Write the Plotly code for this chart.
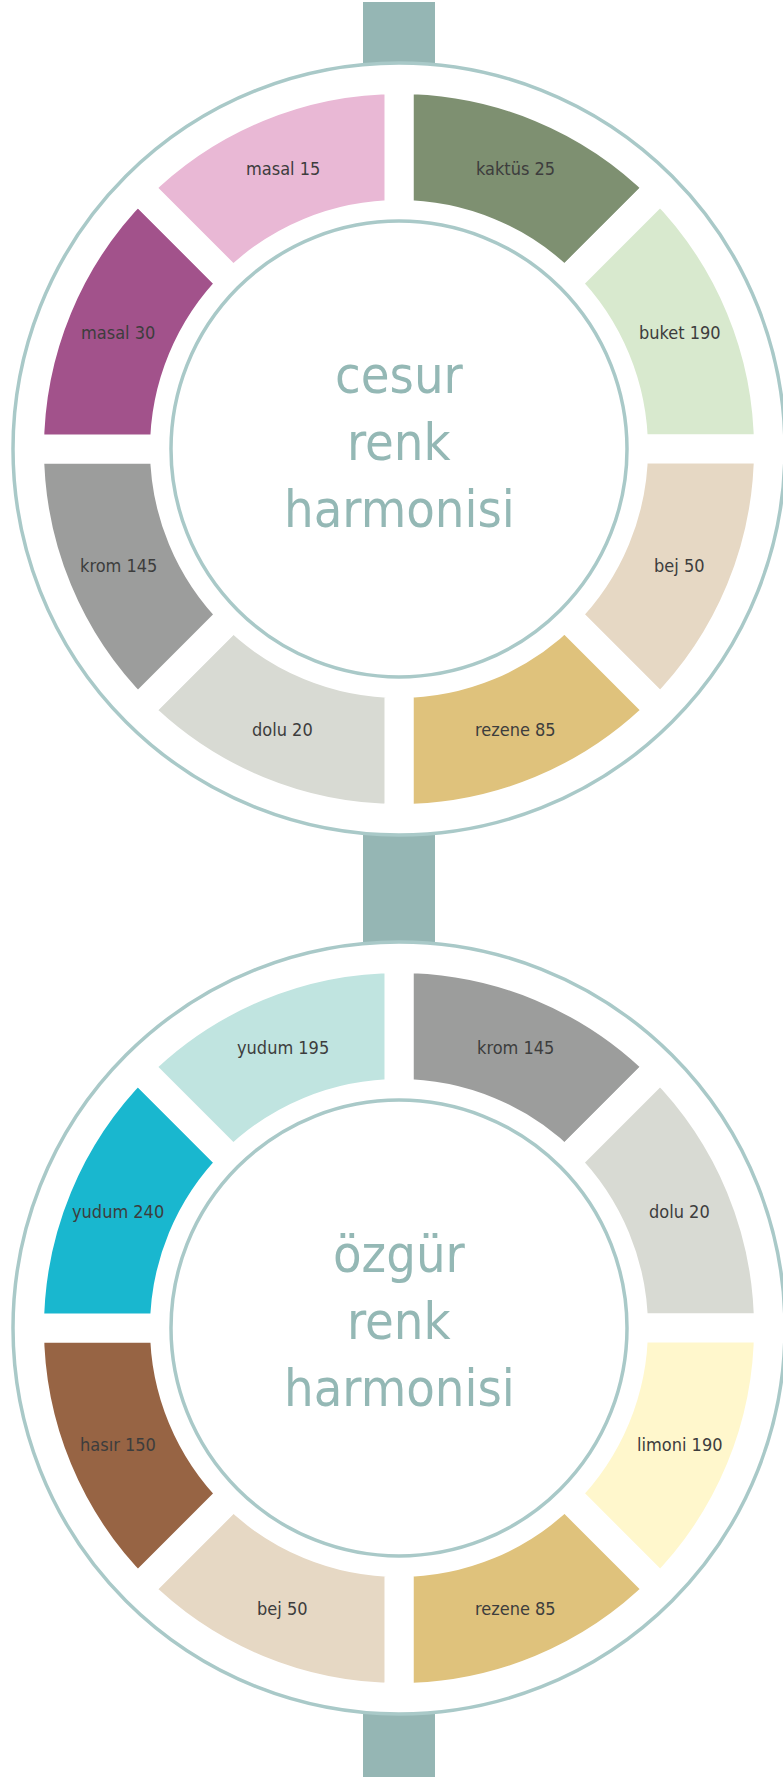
import math
import plotly.graph_objects as go

# ---- data (slices listed clockwise starting at 12 o'clock) ----
wheel1_labels = ["kaktüs 25", "buket 190", "bej 50", "rezene 85",
                 "dolu 20", "krom 145", "masal 30", "masal 15"]
wheel1_colors = ["#7e9071", "#d8e9ce", "#e6d8c4", "#dfc27c",
                 "#d8dad3", "#9c9d9c", "#a2528b", "#e9b8d5"]
wheel1_title = ["cesur", "renk", "harmonisi"]

wheel2_labels = ["krom 145", "dolu 20", "limoni 190", "rezene 85",
                 "bej 50", "hasır 150", "yudum 240", "yudum 195"]
wheel2_colors = ["#9c9d9c", "#d8dad3", "#fff7cc", "#dfc27c",
                 "#e6d8c4", "#976444", "#19b7cf", "#c0e4e0"]
wheel2_title = ["özgür", "renk", "harmonisi"]

shares = [1, 1, 1, 1, 1, 1, 1, 1]

# ---- layout geometry (pixels) ----
W, H = 783, 1777
CX = 399
CENTERS = [449, 1328]
GAP = 29
SEG_OUT, SEG_IN = 355, 249
RING_OUT, RING_IN = 386, 228
LABEL_R = 304
STEM_X0, STEM_X1 = 363, 435
STEM_COLOR = "#95b6b4"
RING_COLOR = "#a9c9c8"
TITLE_COLOR = "#94b8b5"
LABEL_COLOR = "#3d3d3d"
FONT = "Liberation Sans Narrow, DejaVu Sans Condensed, sans-serif"
TITLE_SIZE = 52
LABEL_SIZE = 18


def px(x):
    return x / W


def py(y):
    return 1 - y / H


fig = go.Figure()
shapes = []
annotations = []

# stems
for y0, y1 in [(2, CENTERS[0] - RING_OUT), (CENTERS[0] + RING_OUT, CENTERS[1] - RING_OUT),
               (CENTERS[1] + RING_OUT, H)]:
    shapes.append(dict(type="rect", xref="paper", yref="paper",
                       x0=px(STEM_X0), x1=px(STEM_X1), y0=py(y1), y1=py(y0),
                       fillcolor=STEM_COLOR, line=dict(width=0), layer="below"))

for cy, labels, colors, title in [(CENTERS[0], wheel1_labels, wheel1_colors, wheel1_title),
                                  (CENTERS[1], wheel2_labels, wheel2_colors, wheel2_title)]:
    R = SEG_OUT + GAP / 2
    hole = (SEG_IN - GAP / 2) / R
    fig.add_trace(go.Pie(
        labels=labels, values=shares, sort=False, direction="clockwise", rotation=0,
        hole=hole, marker=dict(colors=colors, line=dict(color="white", width=GAP)),
        textinfo="none", hoverinfo="skip", showlegend=False,
        domain=dict(x=[px(CX - R), px(CX + R)], y=[py(cy + R), py(cy - R)]),
    ))
    # slice labels
    n = len(labels)
    for k, lab in enumerate(labels):
        a = math.radians((k + 0.5) * 360 / n)
        x = CX + LABEL_R * math.sin(a)
        y = cy - LABEL_R * math.cos(a)
        annotations.append(dict(x=px(x), y=py(y), xref="paper", yref="paper",
                                text=lab, showarrow=False, xanchor="center", yanchor="middle",
                                font=dict(family=FONT, size=LABEL_SIZE, color=LABEL_COLOR)))
    # rings
    for r in (RING_OUT, RING_IN):
        shapes.append(dict(type="circle", xref="paper", yref="paper",
                           x0=px(CX - r), x1=px(CX + r), y0=py(cy + r), y1=py(cy - r),
                           line=dict(color=RING_COLOR, width=3.5), fillcolor="rgba(0,0,0,0)",
                           layer="above"))
    # centre title
    baselines = [-56, 11, 78]
    for line, b in zip(title, baselines):
        annotations.append(dict(x=px(CX), y=py(cy + b - 0.35 * TITLE_SIZE), xref="paper", yref="paper",
                                text=line, showarrow=False, xanchor="center", yanchor="middle",
                                font=dict(family=FONT, size=TITLE_SIZE, color=TITLE_COLOR)))

fig.update_layout(width=W, height=H, margin=dict(l=0, r=0, t=0, b=0),
                  paper_bgcolor="white", plot_bgcolor="white",
                  shapes=shapes, annotations=annotations)
fig.write_html("out.html", config={"displayModeBar": False},
               post_script="document.body.style.margin='0';document.body.style.overflow='hidden';")
